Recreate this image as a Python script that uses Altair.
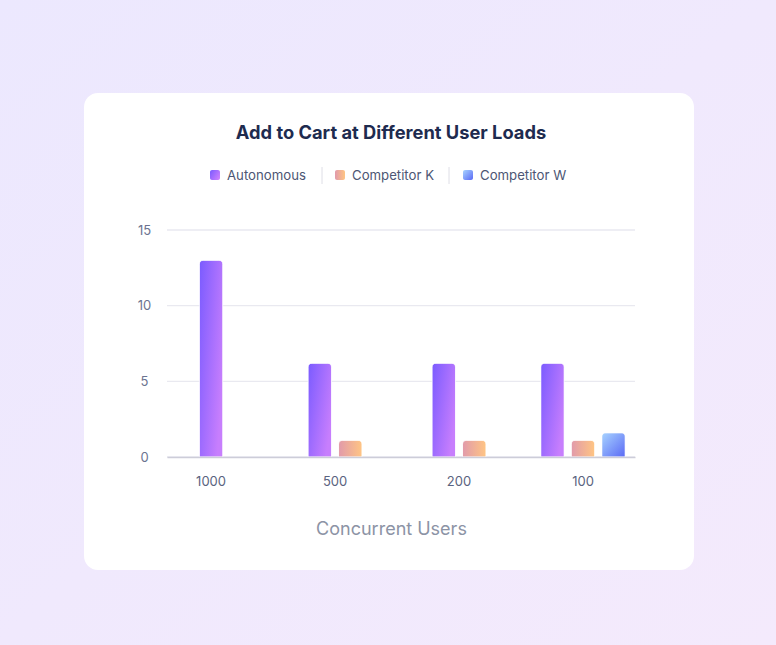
import altair as alt
import pandas as pd

# ---- data ----
categories = ["1000", "500", "200", "100"]
series_names = ["Autonomous", "Competitor K", "Competitor W"]
autonomous = [13, 6.2, 6.2, 6.2]
competitor_k = [None, 1.1, 1.1, 1.1]
competitor_w = [None, None, None, 1.6]
y_ticks = [0, 5, 10, 15]

rows = []
for si, (name, vals) in enumerate(zip(series_names, [autonomous, competitor_k, competitor_w])):
    for cat, v in zip(categories, vals):
        if v is not None:
            rows.append({"users": cat, "series": name, "sidx": si, "value": v})
df = pd.DataFrame(rows)
grid_df = pd.DataFrame({"tick": y_ticks})

FONT = "Inter"
W, H = 468, 227
PL, PT = 167, 230
TOTAL_W, TOTAL_H = 776, 645


def grad(c1, c2, x2=1, y2=1):
    return alt.Gradient(
        gradient="linear",
        stops=[alt.GradientStop(color=c1, offset=0), alt.GradientStop(color=c2, offset=1)],
        x1=0, y1=0, x2=x2, y2=y2,
    )


series_fill = {
    "Autonomous": grad("#7A5BFF", "#C77EFD", 1, 0.6),
    "Competitor K": grad("#E19AAB", "#FFC583", 1, 0),
    "Competitor W": grad("#A8D4FF", "#5A69F5", 1, 1),
}

one = alt.Data(values=[{"k": 1}])

# page background
page = alt.Chart(one).mark_rect(
    fill=alt.Gradient(
        gradient="linear",
        stops=[alt.GradientStop(color="#ECE8FE", offset=0), alt.GradientStop(color="#F4EAFC", offset=1)],
        x1=0, y1=0, x2=1, y2=1,
    )
).encode(
    x=alt.value(-PL), x2=alt.value(TOTAL_W - PL),
    y=alt.value(-PT), y2=alt.value(TOTAL_H - PT),
)

# card
card = alt.Chart(one).mark_rect(fill="white", cornerRadius=14).encode(
    x=alt.value(84 - PL), x2=alt.value(694 - PL),
    y=alt.value(93 - PT), y2=alt.value(570 - PT),
)

title = alt.Chart(one).mark_text(
    text="Add to Cart at Different User Loads",
    font=FONT, fontSize=18.3, fontWeight=700, color="#1E2B4F",
    align="center", baseline="middle",
).encode(x=alt.value(391 - PL), y=alt.value(134 - PT))

# custom legend
legend_layers = []
sq_x = [210, 335, 463]
for name, sx in zip(series_names, sq_x):
    legend_layers.append(
        alt.Chart(one).mark_rect(fill=series_fill[name], cornerRadius=2).encode(
            x=alt.value(sx - PL), x2=alt.value(sx + 10 - PL),
            y=alt.value(170 - PT), y2=alt.value(180 - PT),
        )
    )
    legend_layers.append(
        alt.Chart(one).mark_text(
            text=name, font=FONT, fontSize=13.2, color="#4D5674",
            align="left", baseline="middle",
        ).encode(x=alt.value(sx + 17 - PL), y=alt.value(176 - PT))
    )
for lx in [322, 449]:
    legend_layers.append(
        alt.Chart(one).mark_rule(color="#DEDEE6", strokeWidth=1).encode(
            x=alt.value(lx - PL), y=alt.value(167 - PT), y2=alt.value(184 - PT),
        )
    )

y_scale = alt.Scale(domain=[0, 15], nice=False)

# horizontal grid lines (drawn over the card, under the bars)
grid = alt.Chart(grid_df).mark_rule(color="#E9E9F0", strokeWidth=1.3).encode(
    y=alt.Y("tick:Q", scale=y_scale),
    x=alt.value(0), x2=alt.value(W),
)

# bars
base = alt.Chart(df).transform_joinaggregate(
    n="count()", groupby=["users"]
).transform_window(
    rank="row_number()", groupby=["users"], sort=[alt.SortField("sidx")]
).transform_calculate(
    slot="datum.rank - (datum.n + 1) / 2"
)

x_enc = alt.X(
    "users:N", sort=categories,
    scale=alt.Scale(paddingInner=0.385, paddingOuter=0.08, align=0.3),
    axis=alt.Axis(
        zindex=1,
        domain=True, domainColor="#CDCDD9", domainWidth=1.5,
        ticks=False, labelAngle=0, labelPadding=24, labelBaseline="middle",
        labelColor="#5A6380", labelFontSize=13, labelFont=FONT,
        title="Concurrent Users", titleFont=FONT, titleFontSize=18,
        titleFontWeight="normal", titleColor="#8C93A5",
        titleX=391 - PL, titleY=529 - (PT + H), titleAlign="center", titleBaseline="middle",
    ),
)
xo_enc = alt.XOffset(
    "slot:O",
    scale=alt.Scale(domain=[-1, -0.5, 0, 0.5, 1], paddingInner=0, paddingOuter=0),
)
y_enc = alt.Y(
    "value:Q",
    scale=y_scale,
    axis=alt.Axis(
        zindex=1,
        values=y_ticks, grid=False,
        domain=False, ticks=False, labelAlign="center", labelPadding=23,
        labelColor="#6B7390", labelFontSize=13, labelFont=FONT, title=None,
    ),
)

bar_layers = []
for name in series_names:
    bar_layers.append(
        base.transform_filter(alt.datum.series == name).mark_bar(
            width=23.5, fill=series_fill[name],
            cornerRadiusTopLeft=4, cornerRadiusTopRight=4,
            stroke="white", strokeWidth=1, strokeOpacity=0.6,
        ).encode(x=x_enc, xOffset=xo_enc, y=y_enc,
                 tooltip=["users:N", "series:N", "value:Q"])
    )

chart = alt.layer(page, card, title, *legend_layers, grid, *bar_layers).properties(
    width=W, height=H,
    padding={"left": PL, "top": PT, "right": TOTAL_W - PL - W, "bottom": TOTAL_H - PT - H},
    autosize=alt.AutoSizeParams(type="none"),
).configure_view(stroke=None).configure(background="#EEE9FD")

chart.save("out.html", embed_options={"renderer": "svg", "actions": False})
